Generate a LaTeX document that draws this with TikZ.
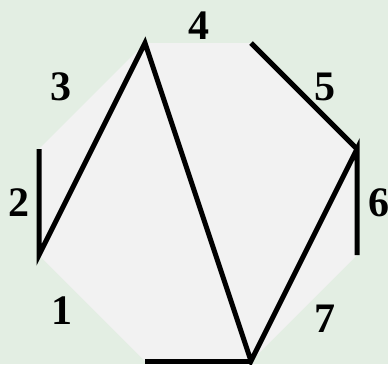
\documentclass[tikz,border=0pt]{standalone}
\usepackage{fontspec}
\setmainfont{Liberation Serif}
\usetikzlibrary{positioning}
\definecolor{bggreen}{HTML}{E3EEE3}
\definecolor{octgray}{HTML}{F2F2F2}

\begin{document}
\begin{tikzpicture}[
    x=1pt, y=-1pt,
    edge/.style={line width=5pt, black},
    num/.style={font=\fontsize{42}{46}\selectfont\bfseries, inner sep=0pt}
]
    % Background
    \useasboundingbox (0,0) rectangle (388,364);
    \fill[bggreen] (0,0) rectangle (388,364);

    % Corners of the octagon
    \coordinate (tl) at (145,43);
    \coordinate (tr) at (251,43);
    \coordinate (rt) at (357,149);
    \coordinate (rb) at (357,255);
    \coordinate (br) at (251,361);
    \coordinate (bl) at (145,361);
    \coordinate (lb) at (39,255);
    \coordinate (lt) at (39,149);

    \fill[octgray] (tl) -- (tr) -- (rt) -- (rb) -- (br) -- (bl) -- (lb) -- (lt) -- cycle;

    % Edges
    \draw[edge] (lt) -- (lb) -- (tl) -- (br) -- (rt) -- (rb);
    \draw[edge] (bl) -- (br);
    \draw[edge] (tr) -- (rt);

    % Labels
    \node[num] (n1) at (62,311) {1};
    \node[num] (n2) at (19,203) {2};
    \node[num] (n3) at (61,87) {3};
    \node[num] (n4) at (199,26) {4};
    \node[num] (n5) at (325,87) {5};
    \node[num] (n6) at (379,203) {6};
    \node[num] (n7) at (325,319) {7};
\end{tikzpicture}
\end{document}
